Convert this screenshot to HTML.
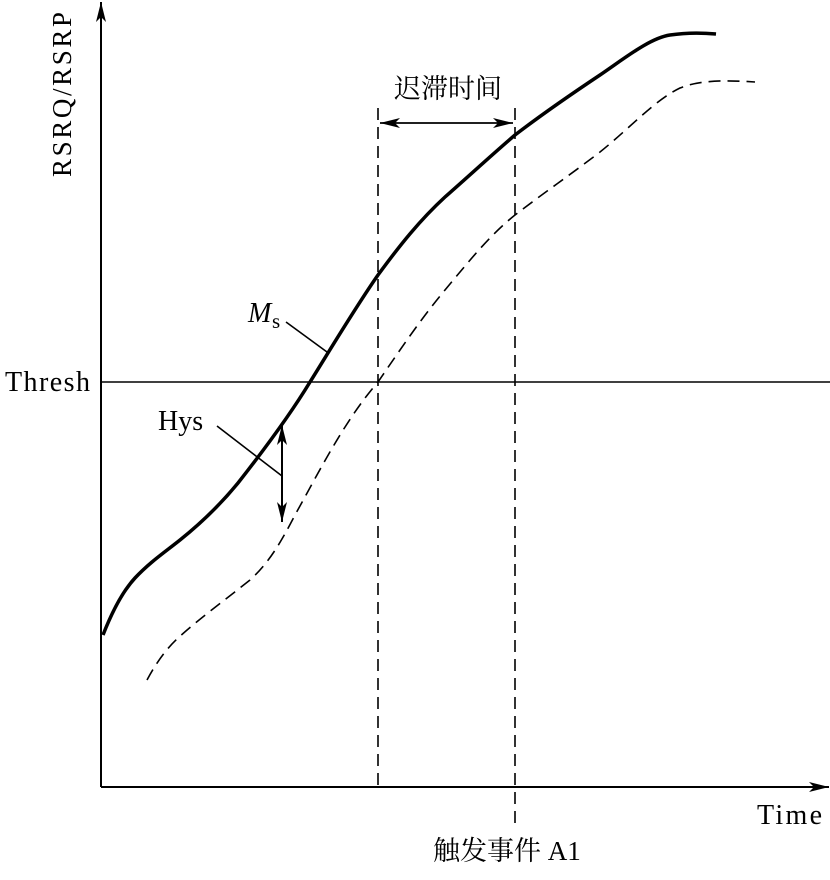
<!DOCTYPE html>
<html><head><meta charset="utf-8"><style>
html,body{margin:0;padding:0;background:#fff;}
svg{display:block;}
text{font-family:"Liberation Serif","Noto Serif CJK SC",serif;fill:#000;}
</style></head><body>
<svg width="830" height="880" viewBox="0 0 830 880" xmlns="http://www.w3.org/2000/svg">
<defs>
<marker id="ah" viewBox="0 0 20 10" refX="20" refY="5" markerWidth="20" markerHeight="10" markerUnits="userSpaceOnUse" orient="auto-start-reverse">
<path d="M0,0 L20,5 L0,10 L5,5 Z" fill="#000"/></marker>
</defs>
<line x1="101" y1="787" x2="101" y2="2" stroke="#000" stroke-width="2" marker-end="url(#ah)"/>
<line x1="101" y1="787" x2="829" y2="787" stroke="#000" stroke-width="2" marker-end="url(#ah)"/>
<line x1="101" y1="382" x2="830" y2="382" stroke="#000" stroke-width="1.6"/>
<line x1="378" y1="108" x2="378" y2="787" stroke="#000" stroke-width="1.6" stroke-dasharray="12,7"/>
<line x1="515" y1="108" x2="515" y2="826" stroke="#000" stroke-width="1.6" stroke-dasharray="12,7"/>
<line x1="380" y1="123" x2="513" y2="123" stroke="#000" stroke-width="1.8" marker-start="url(#ah)" marker-end="url(#ah)"/>
<path d="M103,635 C112,612 122,592 135,578 C150,562 165,552 180,540 C200,524 220,505 238,483 C260,455 290,415 310,382 C330,350 355,308 378,275 C400,245 420,220 445,197 C470,175 495,152 515,135 C545,112 570,95 600,75 C625,58 650,38 670,35 C690,32 705,33 716,34" fill="none" stroke="#000" stroke-width="3.5"/>
<path d="M147,680 C155,665 165,650 178,638 C200,618 225,600 250,580 C270,562 282,540 295,515 C320,470 345,420 378,382 C400,350 420,320 445,290 C470,260 490,235 515,215 C545,192 570,175 600,152 C630,128 655,100 680,88 C700,80 725,80 755,82" fill="none" stroke="#000" stroke-width="1.6" stroke-dasharray="12,7"/>
<line x1="282" y1="425" x2="282" y2="522" stroke="#000" stroke-width="2" marker-start="url(#ah)" marker-end="url(#ah)"/>
<line x1="286" y1="322" x2="327" y2="352" stroke="#000" stroke-width="1.6"/>
<line x1="217" y1="426" x2="282" y2="476" stroke="#000" stroke-width="1.6"/>
<text x="65" y="177" font-size="27" textLength="165" transform="rotate(-90 65 177)" dominant-baseline="middle">RSRQ/RSRP</text>
<text x="5" y="391" font-size="28" textLength="85">Thresh</text>
<text x="158" y="430" font-size="28">Hys</text>
<text x="248" y="322" font-size="28" font-style="italic">M</text><text x="272" y="328" font-size="21">s</text>
<text x="448" y="98" font-size="27" text-anchor="middle">迟滞时间</text>
<text x="757" y="824" font-size="28" textLength="65">Time</text>
<text x="433" y="860" font-size="27">触发事件 A1</text>
</svg>
</body></html>
